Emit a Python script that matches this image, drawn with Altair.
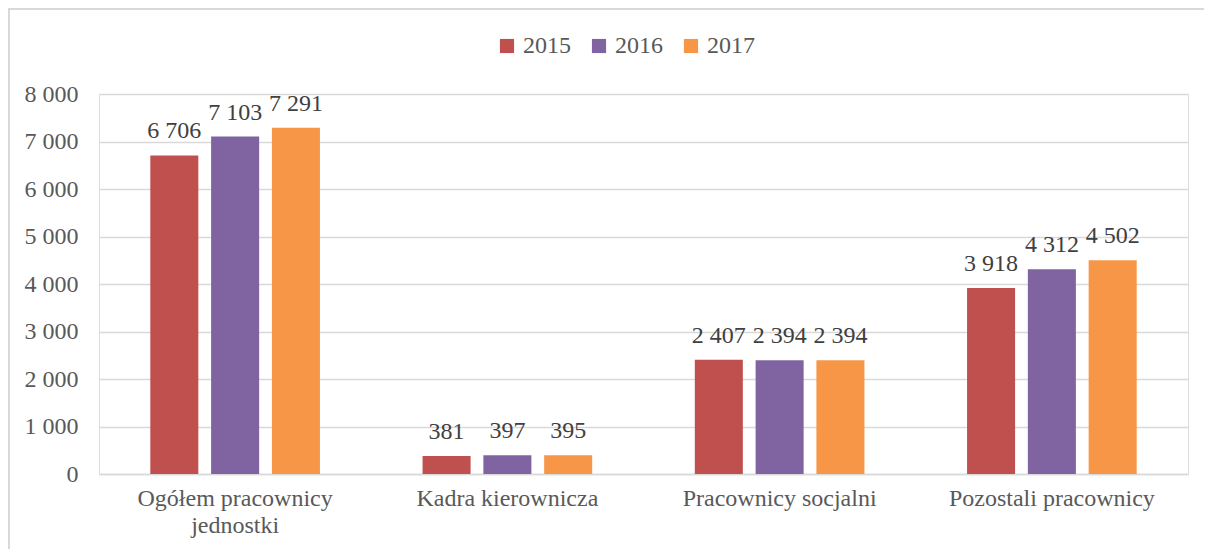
import altair as alt
import pandas as pd

categories = ["Ogółem pracownicy|jednostki", "Kadra kierownicza", "Pracownicy socjalni", "Pozostali pracownicy"]
years = ["2015", "2016", "2017"]
values_2015 = [6706, 381, 2407, 3918]
values_2016 = [7103, 397, 2394, 4312]
values_2017 = [7291, 395, 2394, 4502]
colors = ["#C0504D", "#8064A2", "#F79646"]

rows = []
for yr, vals in zip(years, [values_2015, values_2016, values_2017]):
    for c, v in zip(categories, vals):
        rows.append({"cat": c, "year": yr, "value": v})
df = pd.DataFrame(rows)

FONT = "Liberation Serif"
GREY = "#595959"
FS = 24

x = alt.X("cat:N", sort=categories, title=None,
          scale=alt.Scale(paddingInner=0.33, paddingOuter=0.165),
          axis=alt.Axis(labelExpr="split(datum.label, '|')", labelAngle=0, labelFontSize=FS,
                        labelFont=FONT, labelColor=GREY, ticks=False, domain=True,
                        domainColor="#d9d9d9", domainWidth=1.5, labelPadding=12,
                        labelLineHeight=27, labelBaseline="top", grid=False, labelLimit=0))
xo = alt.XOffset("year:N", sort=years, scale=alt.Scale(paddingInner=0.21, paddingOuter=0.105))
y = alt.Y("value:Q", title=None,
          scale=alt.Scale(domain=[0, 8000], nice=False),
          axis=alt.Axis(values=list(range(0, 8001, 1000)), labelFontSize=FS, labelFont=FONT,
                        labelColor=GREY, ticks=False, domain=False, gridColor="#d9d9d9",
                        gridWidth=1.5, labelPadding=21,
                        labelExpr="replace(format(datum.value, ','), ',', ' ')"))

color = alt.Color("year:N", sort=years,
                  scale=alt.Scale(domain=years, range=colors),
                  legend=alt.Legend(title=None, orient="none", direction="horizontal",
                                    legendX=396, legendY=-60, symbolType="square",
                                    symbolSize=200, symbolStrokeWidth=0, labelFontSize=FS,
                                    labelFont=FONT, labelColor=GREY, columnPadding=16,
                                    labelOffset=4))

bars = alt.Chart(df).mark_bar().encode(x=x, xOffset=xo, y=y, color=color)
labels = alt.Chart(df).mark_text(baseline="alphabetic", dy=-17, fontSize=FS, font=FONT,
                                 color="#404040").encode(
    x=alt.X("cat:N", sort=categories),
    xOffset=alt.XOffset("year:N", sort=years),
    y="value:Q",
    text=alt.Text("label:N"),
).transform_calculate(label="replace(format(datum.value, ','), ',', ' ')")

frame_df = pd.DataFrame({"k": [0]})
frame_top = alt.Chart(frame_df).mark_rule(color="#d9d9d9", strokeWidth=2).encode(
    x=alt.value(-91), x2=alt.value(1120), y=alt.value(-85))
frame_left = alt.Chart(frame_df).mark_rule(color="#d9d9d9", strokeWidth=2).encode(
    x=alt.value(-90), y=alt.value(-86), y2=alt.value(480))

chart = alt.layer(bars, labels, frame_top, frame_left).properties(
    width=1089, height=380,
    padding={"left": 91, "top": 86, "right": 16, "bottom": 75},
    autosize=alt.AutoSizeParams(type="none"),
).configure_view(stroke=None).configure(background="white")

chart.save("out.html", embed_options={"renderer": "svg", "actions": False})
